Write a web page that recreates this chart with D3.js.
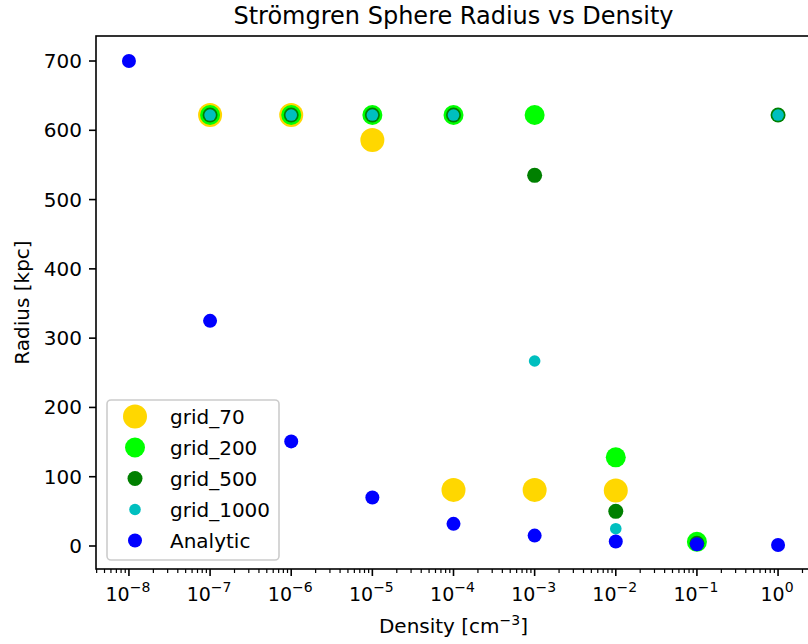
<!DOCTYPE html>
<html>
<head>
<meta charset="utf-8">
<script src="https://cdn.jsdelivr.net/npm/d3@7"></script>
<style>
body{margin:0;background:#fff;}
text{font-family:"DejaVu Sans",sans-serif;}
</style>
</head>
<body>
<div id="chart"></div>
<script>
// densities (cm^-3), one per x position
var densities=[1e-8,1e-7,1e-6,1e-5,1e-4,1e-3,1e-2,1e-1,1e0];
// radius in kpc, null = no point
var grid70=[null,622,622,586,81,81,80,null,null];
var grid200=[null,622,622,622,622,622,128,6,null];
var grid500=[null,622,622,622,622,535,50,4,622];
var grid1000=[null,622,622,622,622,267,25,2.5,622];
var analytic=[700,325,151,70,32,15,6.5,2.5,1.5];
var seriesNames=["grid_70","grid_200","grid_500","grid_1000","Analytic"];
var seriesColors=["#FFD700","#00FF00","#008000","#00BFBF","#0000FF"];
var seriesRadius=[12,10,7.5,5.8,7];
var yTicks=[0,100,200,300,400,500,600,700];
var xTickExp=[-8,-7,-6,-5,-4,-3,-2,-1,0];

var W=808,H=644;
var pLeft=96,pRight=811,pTop=36,pBottom=569;

var svg=d3.select("#chart").append("svg").attr("width",W).attr("height",H);

var x=d3.scaleLog().domain([Math.pow(10,-8.406),Math.pow(10,0.406)]).range([pLeft,pRight]);
var y=d3.scaleLinear().domain([-33.2,736.1]).range([pBottom,pTop]);

// minor ticks on the log axis
var minor=[];
for(var e=-9;e<=0;e++){
	for(var m=2;m<=9;m++){
		var v=m*Math.pow(10,e);
		if(v>=x.domain()[0]&&v<=x.domain()[1]) minor.push(v);
	}
}
svg.selectAll("line.minor").data(minor).enter().append("line")
	.attr("x1",function(d){return x(d);}).attr("x2",function(d){return x(d);})
	.attr("y1",pBottom).attr("y2",pBottom+4)
	.attr("stroke","black").attr("stroke-width",1.2);

svg.selectAll("line.xmajor").data(xTickExp).enter().append("line")
	.attr("x1",function(d){return x(Math.pow(10,d));}).attr("x2",function(d){return x(Math.pow(10,d));})
	.attr("y1",pBottom).attr("y2",pBottom+7)
	.attr("stroke","black").attr("stroke-width",1.6);

var xl=svg.selectAll("text.xtick").data(xTickExp).enter().append("text")
	.attr("x",function(d){return x(Math.pow(10,d))-1;})
	.attr("y",pBottom+32)
	.attr("font-size",19)
	.attr("text-anchor","middle");
xl.append("tspan").text("10");
xl.append("tspan").attr("dy",-9).attr("font-size",14)
	.text(function(d){return d<0?"\u2212"+(-d):""+d;});

svg.selectAll("line.ymajor").data(yTicks).enter().append("line")
	.attr("x1",pLeft-7).attr("x2",pLeft)
	.attr("y1",function(d){return y(d);}).attr("y2",function(d){return y(d);})
	.attr("stroke","black").attr("stroke-width",1.6);

svg.selectAll("text.ytick").data(yTicks).enter().append("text")
	.attr("x",pLeft-14)
	.attr("y",function(d){return y(d)+7;})
	.attr("font-size",20)
	.attr("text-anchor","end")
	.text(function(d){return d;});

// points, drawn in series order so Analytic ends on top
var allSeries=[grid70,grid200,grid500,grid1000,analytic];
for(var s=0;s<allSeries.length;s++){
	var pts=[];
	for(var i=0;i<densities.length;i++){
		if(allSeries[s][i]!=null) pts.push({"d":densities[i],"r":allSeries[s][i]});
	}
	svg.append("g").selectAll("circle").data(pts).enter().append("circle")
		.attr("cx",function(d){return x(d.d);})
		.attr("cy",function(d){return y(d.r);})
		.attr("r",seriesRadius[s])
		.attr("fill",seriesColors[s]);
}

// frame
svg.append("rect").attr("x",pLeft).attr("y",pTop).attr("width",pRight-pLeft).attr("height",pBottom-pTop)
	.attr("fill","none").attr("stroke","black").attr("stroke-width",1.6);

// legend
var lg=svg.append("g");
lg.append("rect").attr("x",107).attr("y",400).attr("width",172).attr("height",160)
	.attr("rx",4).attr("fill","white").attr("fill-opacity",0.8)
	.attr("stroke","#cccccc").attr("stroke-width",1.6);
for(var k=0;k<seriesNames.length;k++){
	var ly=416.5+k*31;
	lg.append("circle").attr("cx",135).attr("cy",ly).attr("r",seriesRadius[k]).attr("fill",seriesColors[k]);
	lg.append("text").attr("x",170).attr("y",ly+7).attr("font-size",20).text(seriesNames[k]);
}

// titles
svg.append("text").attr("x",(pLeft+pRight)/2).attr("y",24).attr("text-anchor","middle")
	.attr("font-size",24).text("Strömgren Sphere Radius vs Density");

var xt=svg.append("text").attr("x",(pLeft+pRight)/2).attr("y",633).attr("text-anchor","middle").attr("font-size",20);
xt.append("tspan").text("Density [cm");
xt.append("tspan").attr("dy",-8).attr("font-size",14).text("\u22123");
xt.append("tspan").attr("dy",8).text("]");

svg.append("text").attr("transform","translate(29,"+((pTop+pBottom)/2)+") rotate(-90)")
	.attr("text-anchor","middle").attr("font-size",20).text("Radius [kpc]");
</script>
</body>
</html>
